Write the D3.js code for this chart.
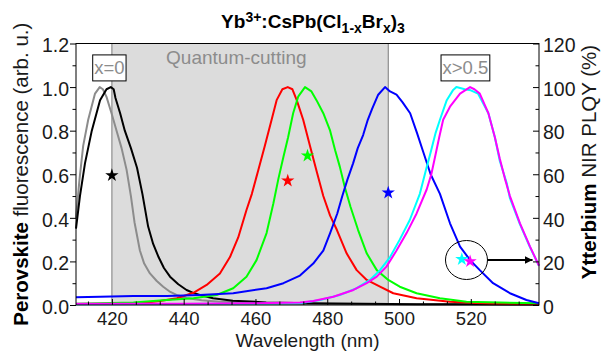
<!DOCTYPE html>
<html>
<head>
<meta charset="utf-8">
<script src="https://cdn.jsdelivr.net/npm/d3@7"></script>
<style>
  html, body { margin: 0; padding: 0; background: #fff; }
  svg { display: block; font-family: "Liberation Sans", Arial, sans-serif; }
</style>
</head>
<body>
<svg id="sv" width="601" height="352"></svg>
<script>
// spectra: [wavelength nm, normalised PL]
const greyPL = [[410,0.40],[411,0.58],[412,0.73],[413.4,0.85],[415.3,0.97],[416.6,1.0],[417.5,0.99],[418.5,0.955],[419.9,0.88],[421.3,0.80],[422.7,0.72],[424.1,0.62],[425.3,0.50],[426.3,0.38],[427.8,0.25],[429,0.19],[430.6,0.145],[432.5,0.11],[434.3,0.084],[436,0.063],[438,0.046],[440.8,0.032],[445,0.022],[450,0.015],[456,0.011],[465,0.007],[480,0.005],[500,0.004],[539,0.003]];
const blackPL = [[410,0.35],[411.1,0.50],[412.5,0.65],[414.4,0.80],[416.7,0.94],[418.5,0.99],[419.7,1.0],[420.5,0.99],[421,0.95],[422.3,0.88],[423.6,0.80],[425.3,0.72],[427,0.63],[428.5,0.51],[430.1,0.36],[431.5,0.28],[433,0.22],[434.5,0.17],[436.2,0.13],[438.5,0.095],[440.8,0.069],[442.5,0.057],[444.5,0.046],[448.2,0.031],[453.7,0.02],[463,0.012],[475,0.008],[490,0.006],[505,0.004],[520,0.003],[539,0.002]];
const redPL = [[410,0.005],[420,0.006],[427.8,0.008],[433.4,0.018],[438.1,0.031],[442.7,0.056],[446.4,0.092],[450.1,0.145],[452.9,0.22],[455.2,0.31],[457.5,0.436],[459,0.51],[460.8,0.62],[462.6,0.73],[464.5,0.85],[465.9,0.94],[467.5,0.99],[469,1.0],[470.3,0.99],[471.5,0.94],[473.3,0.85],[475.2,0.73],[477.1,0.61],[478.9,0.50],[480.8,0.41],[482.7,0.344],[485.4,0.237],[488.2,0.16],[491,0.115],[494.7,0.084],[498.4,0.054],[504.9,0.031],[514.2,0.015],[526,0.006],[539,0.003]];
const greenPL = [[410,0.006],[416.7,0.008],[426,0.011],[435.3,0.023],[442.7,0.031],[449.2,0.046],[453.8,0.077],[457.5,0.13],[460.3,0.206],[463.1,0.33],[465,0.467],[466.4,0.58],[467.8,0.68],[469.1,0.77],[470.5,0.88],[471.9,0.956],[473.8,1.0],[475.6,0.98],[477,0.94],[478.9,0.88],[480.8,0.80],[482.2,0.71],[483.5,0.635],[484.9,0.54],[486.5,0.45],[488.6,0.344],[491,0.237],[493.8,0.16],[497,0.115],[500.2,0.084],[504.9,0.054],[511.4,0.031],[518.8,0.015],[528.1,0.011],[539,0.008]];
const bluePL = [[410,0.035],[416.7,0.038],[426,0.041],[435.3,0.041],[444.5,0.046],[453.8,0.054],[463.1,0.077],[467.8,0.1],[472.4,0.135],[476.1,0.19],[478.9,0.25],[480.8,0.33],[482.8,0.42],[484.2,0.50],[485.6,0.574],[487.2,0.65],[488.5,0.72],[490,0.78],[491.3,0.85],[492.5,0.90],[494.2,0.965],[496.1,1.0],[497.5,0.98],[499.3,0.965],[501,0.93],[503.1,0.88],[505,0.79],[506.8,0.70],[508.8,0.60],[511.4,0.51],[514.2,0.375],[517,0.268],[519.8,0.206],[522.5,0.16],[526.2,0.1],[530.9,0.054],[535.5,0.023],[539,0.008]];
const cyanPL = [[410,0.004],[440,0.005],[460,0.006],[472.4,0.008],[478,0.023],[483.5,0.046],[488.2,0.077],[491.9,0.115],[494.7,0.16],[497.5,0.22],[500.2,0.30],[503,0.39],[505.8,0.51],[507.5,0.62],[508.8,0.70],[510.2,0.79],[511.4,0.85],[513.3,0.94],[515,0.985],[516,1.0],[518.3,0.99],[520,0.985],[522,0.97],[524.9,0.88],[526.7,0.77],[528.1,0.66],[530,0.56],[530.9,0.49],[533.7,0.37],[536.5,0.265],[539,0.18]];
const magentaPL = [[410,0.006],[440,0.006],[460,0.008],[472.4,0.011],[476.1,0.018],[481.7,0.038],[487.3,0.069],[491,0.1],[493.8,0.13],[496.5,0.176],[499.3,0.25],[502.1,0.33],[504.9,0.42],[507.7,0.53],[509,0.60],[510.3,0.70],[511.2,0.77],[512.3,0.85],[514.2,0.91],[517,0.97],[519.8,1.0],[521,0.99],[522.5,0.97],[524.9,0.88],[526.7,0.77],[528.1,0.67],[529.5,0.58],[530.9,0.50],[533.7,0.375],[536.5,0.268],[539,0.18]];

const series = [greyPL, blackPL, redPL, greenPL, bluePL, cyanPL, magentaPL];
const seriesColors = ["#8c8c8c", "#000000", "#ff0000", "#00ff00", "#0000ff", "#00ffff", "#ff00ff"];

// Yb NIR PLQY (%) at the emission peak
const starWl = [420, 469, 474.5, 497, 517.5, 519.8];
const starQY = [59.5, 57, 68.5, 51.5, 21, 20];
const starColors = ["#000000", "#ff0000", "#00ff00", "#0000ff", "#00ffff", "#ff00ff"];

const xTicks = [420, 440, 460, 480, 500, 520];
const leftTicks = [0, 0.2, 0.4, 0.6, 0.8, 1.0, 1.2];
const rightTicks = [0, 20, 40, 60, 80, 100, 120];
const cutRange = [420, 497];

const svg = d3.select("#sv");
const L = 76, R = 539, T = 43.5, B = 305;
const x = d3.scaleLinear().domain([410, 539]).range([L, R]);
const y = d3.scaleLinear().domain([0, 1.2]).range([B, T]);
const y2 = d3.scaleLinear().domain([0, 120]).range([B, T]);
const fs = 19.5;

// quantum-cutting band
svg.append("rect").attr("x", x(cutRange[0])).attr("y", T).attr("width", x(cutRange[1]) - x(cutRange[0])).attr("height", B - T).attr("fill", "#dcdcdc");
svg.selectAll("line.vb").data(cutRange).enter().append("line").attr("class", "vb")
  .attr("x1", d => x(d)).attr("x2", d => x(d)).attr("y1", T).attr("y2", B).attr("stroke", "#7a7a7a").attr("stroke-width", 1);

svg.append("text").attr("x", x(435.1)).attr("y", y(1.107)).attr("font-size", 19).attr("fill", "#8c8c8c").text("Quantum-cutting");

// curves
const line = d3.line().x(d => x(d[0])).y(d => y(d[1]));
svg.append("g").selectAll("path").data(series).enter().append("path")
  .attr("fill", "none").attr("stroke", (d, i) => seriesColors[i]).attr("stroke-width", 2).attr("stroke-linejoin", "round")
  .attr("d", line);

// axes
const minorX = d3.range(0, 21).map(i => 413.3333 + i * 20 / 3).filter(v => v <= 539 && !xTicks.some(t => Math.abs(t - v) < 0.01));
const minorL = d3.range(0.1, 1.2, 0.2);
const minorR = d3.range(10, 120, 20);

function styleAxis(g) {
  g.select(".domain").remove();
  g.selectAll(".tick line").attr("stroke", "#000");
  g.selectAll(".tick text").attr("font-size", fs).attr("fill", "#1a1a1a").attr("font-family", "Liberation Sans, Arial, sans-serif");
}

svg.append("g").attr("transform", `translate(0,${B})`)
  .call(d3.axisBottom(x).tickValues(xTicks).tickSize(-6).tickPadding(7).tickFormat(d3.format("d")))
  .call(styleAxis)
  .call(g => g.selectAll(".tick text").attr("font-size", 18.5));
svg.append("g").attr("transform", `translate(0,${B})`)
  .call(d3.axisBottom(x).tickValues(minorX).tickSize(-3.5).tickFormat(""))
  .call(styleAxis);

svg.append("g").attr("transform", `translate(${L},0)`)
  .call(d3.axisLeft(y).tickValues(leftTicks).tickSize(6).tickPadding(1).tickFormat(d3.format(".1f")))
  .call(styleAxis)
  .call(g => g.selectAll(".tick text").attr("dy", "0.42em"));
svg.append("g").attr("transform", `translate(${L},0)`)
  .call(d3.axisLeft(y).tickValues(minorL).tickSize(3.5).tickFormat(""))
  .call(styleAxis);

svg.append("g").attr("transform", `translate(${R},0)`)
  .call(d3.axisRight(y2).tickValues(rightTicks).tickSize(-6).tickPadding(4).tickFormat(d3.format("d")))
  .call(styleAxis)
  .call(g => g.selectAll(".tick text").attr("dy", "0.42em"));
svg.append("g").attr("transform", `translate(${R},0)`)
  .call(d3.axisRight(y2).tickValues(minorR).tickSize(-3.5).tickFormat(""))
  .call(styleAxis);

svg.append("rect").attr("x", L).attr("y", T).attr("width", R - L).attr("height", B - T)
  .attr("fill", "none").attr("stroke", "#000").attr("stroke-width", 1);

// stars
const star = d3.symbol(d3.symbolStar).size(55);
svg.append("g").selectAll("path").data(starWl).enter().append("path")
  .attr("transform", (d, i) => `translate(${x(d)},${y2(starQY[i])})`)
  .attr("d", star).attr("fill", (d, i) => starColors[i]);

// circle + arrow to right axis
const cx = x(518.8), cy = y2(20.65);
svg.append("ellipse").attr("cx", cx).attr("cy", cy).attr("rx", 21).attr("ry", 19.5)
  .attr("fill", "none").attr("stroke", "#000").attr("stroke-width", 1);
svg.append("defs").append("marker").attr("id", "ah").attr("viewBox", "0 0 10 10").attr("refX", 10).attr("refY", 5)
  .attr("markerWidth", 8).attr("markerHeight", 8).attr("markerUnits", "userSpaceOnUse").attr("orient", "auto")
  .append("path").attr("d", "M0 0L10 5L0 10z").attr("fill", "#000");
svg.append("line").attr("x1", cx + 21).attr("x2", x(537.2)).attr("y1", cy).attr("y2", cy)
  .attr("stroke", "#000").attr("stroke-width", 2).attr("marker-end", "url(#ah)");

// boxed labels
const boxes = [{ t: "x=0", wl: 419.3, v: 1.088 }, { t: "x>0.5", wl: 518.5, v: 1.088 }];
boxes.forEach(b => {
  const g = svg.append("g");
  const tx = g.append("text").attr("x", x(b.wl)).attr("y", y(b.v)).attr("dy", "0.35em").attr("text-anchor", "middle")
    .attr("font-size", 18.5).attr("fill", "#8c8c8c").text(b.t);
  const bb = tx.node().getBBox();
  g.insert("rect", "text").attr("x", bb.x - 1.5).attr("y", y(b.v) - 13).attr("width", bb.width + 3).attr("height", 26)
    .attr("fill", "#fff").attr("stroke", "#000").attr("stroke-width", 1);
});

// title
const title = svg.append("text").attr("x", 313).attr("y", 28).attr("text-anchor", "middle")
  .attr("font-weight", "bold").attr("fill", "#000");
[["Yb", 0, 19], ["3+", -6.5, 14], [":CsPb(Cl", 6.5, 19], ["1-x", 5, 14], ["Br", -5, 19], ["x", 5, 14], [")", -5, 19], ["3", 5, 14]]
  .forEach(([s, dy, f]) => title.append("tspan").attr("dy", dy).attr("font-size", f).text(s));

// axis titles
svg.append("text").attr("x", (L + R) / 2).attr("y", 347).attr("text-anchor", "middle").attr("font-size", 19)
  .attr("fill", "#1a1a1a").text("Wavelength (nm)");

const yl = svg.append("text").attr("transform", `translate(28,${(T + B) / 2}) rotate(-90)`).attr("text-anchor", "middle")
  .attr("font-size", 20.5).attr("fill", "#1a1a1a");
yl.append("tspan").attr("font-weight", "bold").attr("fill", "#000").text("Perovskite");
yl.append("tspan").text(" fluorescence (arb. u.)");

const yr = svg.append("text").attr("transform", `translate(596,162) rotate(-90)`).attr("text-anchor", "middle")
  .attr("font-size", 20.5).attr("fill", "#1a1a1a");
yr.append("tspan").attr("font-weight", "bold").attr("fill", "#000").text("Ytterbium");
yr.append("tspan").text(" NIR PLQY (%)");
</script>
</body>
</html>
